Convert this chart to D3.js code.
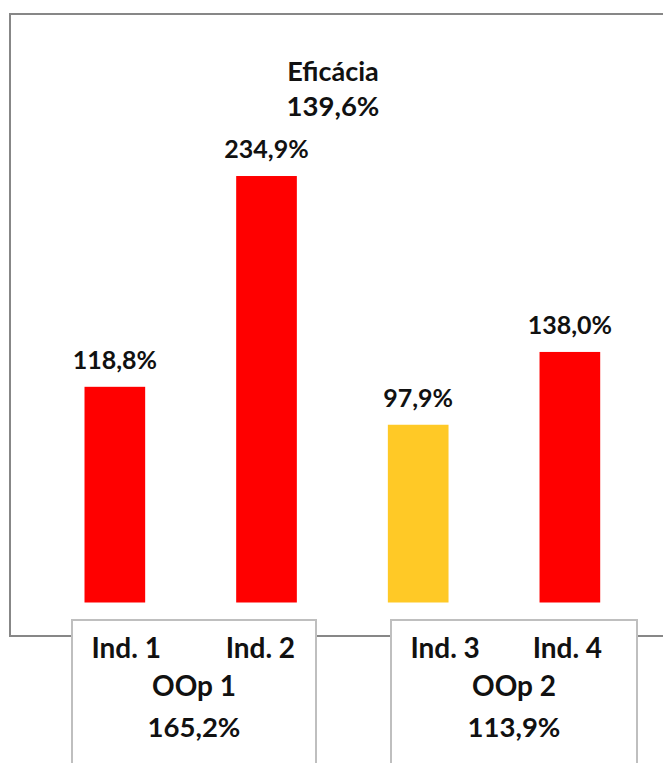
<!DOCTYPE html>
<html>
<head>
<meta charset="utf-8">
<script src="https://cdn.jsdelivr.net/npm/d3@7"></script>
<style>
  html, body { margin: 0; padding: 0; background: #fff; }
  svg { display: block; }
  text { font-family: Lato, "Open Sans", sans-serif; font-weight: 700; fill: #111; }
</style>
</head>
<body>
<svg id="chart" width="663" height="763"></svg>
<script>
// Indicator values (%)
const categories = ["Ind. 1", "Ind. 2", "Ind. 3", "Ind. 4"];
const values = [118.8, 234.9, 97.9, 138.0];
const barColors = ["#FF0000", "#FF0000", "#FFC926", "#FF0000"];

// Operational objectives, each grouping two indicators
const groupNames = ["OOp 1", "OOp 2"];
const groupValues = [165.2, 113.9];
const groupMembers = [["Ind. 1", "Ind. 2"], ["Ind. 3", "Ind. 4"]];

// Overall result
const titleText = "Eficácia";
const overallValue = 139.6;

const W = 663, H = 763;
const svg = d3.select("#chart");

const locale = d3.formatLocale({ decimal: ",", thousands: ".", grouping: [3], currency: ["", "€"] });
const pct = v => locale.format(".1f")(v) + "%";

const x = d3.scaleBand()
  .domain(categories)
  .range([39, 645.7])
  .paddingInner(0.6)
  .paddingOuter(0.3);

const y = d3.scaleLinear()
  .domain([0, 250])
  .range([602.5, 148.6]);

// Outer frame of the plot area (continues past the right edge)
svg.append("rect")
  .attr("x", 10).attr("y", 14)
  .attr("width", W + 20).attr("height", 636 - 14)
  .attr("fill", "none")
  .attr("stroke", "#878787")
  .attr("stroke-width", 2);

// Title
svg.append("text")
  .attr("x", 333).attr("y", 81)
  .attr("text-anchor", "middle")
  .attr("font-size", 27)
  .text(titleText);
svg.append("text")
  .attr("x", 333).attr("y", 116)
  .attr("text-anchor", "middle")
  .attr("font-size", 27.5)
  .text(pct(overallValue));

// Bars
svg.selectAll("rect.bar")
  .data(categories)
  .join("rect")
  .attr("class", "bar")
  .attr("x", d => x(d))
  .attr("width", x.bandwidth())
  .attr("y", (d, i) => y(values[i]))
  .attr("height", (d, i) => y(0) - y(values[i]))
  .attr("fill", (d, i) => barColors[i]);

// Value labels
svg.selectAll("text.val")
  .data(categories)
  .join("text")
  .attr("class", "val")
  .attr("x", d => x(d) + x.bandwidth() / 2)
  .attr("y", (d, i) => y(values[i]) - 18)
  .attr("text-anchor", "middle")
  .attr("font-size", 25)
  .text((d, i) => pct(values[i]));

// Group boxes under the axis
const boxLayout = [
  { x0: 72, x1: 316, labelFrac: [0.222, 0.772] },
  { x0: 391, x1: 637, labelFrac: [0.22, 0.717] }
];
const boxTop = 620;

const groups = svg.selectAll("g.grp")
  .data(groupNames)
  .join("g")
  .attr("class", "grp");

groups.append("rect")
  .attr("x", (d, i) => boxLayout[i].x0)
  .attr("y", boxTop)
  .attr("width", (d, i) => boxLayout[i].x1 - boxLayout[i].x0)
  .attr("height", H - boxTop + 20)
  .attr("fill", "#fff")
  .attr("stroke", "#BFBFBF")
  .attr("stroke-width", 2);

groups.each(function (g, i) {
  const L = boxLayout[i];
  const sel = d3.select(this);
  const w = L.x1 - L.x0;
  groupMembers[i].forEach((m, j) => {
    sel.append("text")
      .attr("x", L.x0 + w * L.labelFrac[j])
      .attr("y", 658)
      .attr("text-anchor", "middle")
      .attr("font-size", 28)
      .text(m);
  });
  const cx = (L.x0 + L.x1) / 2;
  sel.append("text")
    .attr("x", cx).attr("y", 696)
    .attr("text-anchor", "middle")
    .attr("font-size", 28)
    .text(g);
  sel.append("text")
    .attr("x", cx).attr("y", 737)
    .attr("text-anchor", "middle")
    .attr("font-size", 27.5)
    .text(pct(groupValues[i]));
});
</script>
</body>
</html>
